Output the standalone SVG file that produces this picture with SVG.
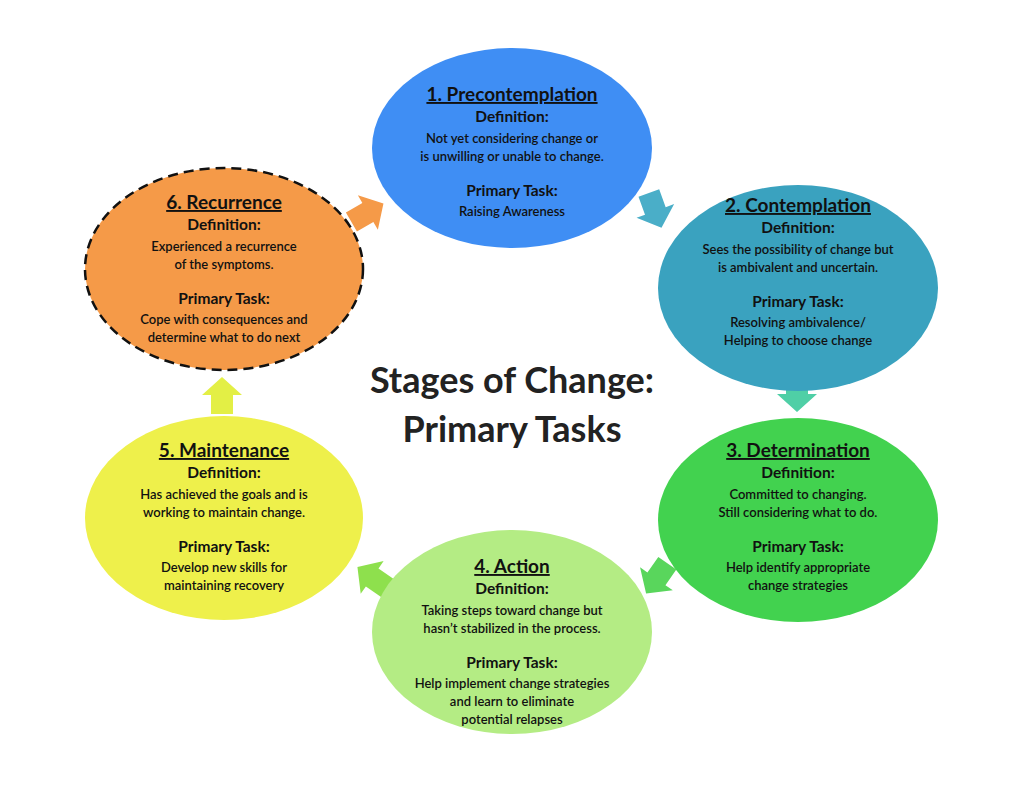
<svg xmlns="http://www.w3.org/2000/svg" width="1024" height="792" viewBox="0 0 1024 792">
<style>
text{font-family:Lato,"Open Sans","Liberation Sans",sans-serif;text-anchor:middle;fill:#111}
.h{font-size:19px;font-weight:bold;text-decoration:underline}
.d{font-size:15.5px;font-weight:bold}
.b{font-size:13px;font-weight:600}
.t{font-size:36px;font-weight:bold;fill:#222}
</style>
<defs><path id="ar" d="M-18,-11 L1,-11 L1,-20 L19,0 L1,20 L1,11 L-18,11 Z"/></defs>
<rect width="1024" height="792" fill="#fff"/>
<g id="connectors">
<use href="#ar" fill="#f59a48" transform="translate(367,213) rotate(-30)"/>
<use href="#ar" fill="#4aaec8" transform="translate(655,210) rotate(70)"/>
<use href="#ar" fill="#4fcfa6" transform="translate(797,393) rotate(90)"/>
<use href="#ar" fill="#59d65c" transform="translate(657,578) rotate(125)"/>
<use href="#ar" fill="#8ee04d" transform="translate(373,578) rotate(215)"/>
<use href="#ar" fill="#e3ef45" transform="translate(222,396) rotate(-90)"/>
</g>
<g id="n1"><ellipse cx="512" cy="148" rx="140" ry="100" fill="#3f8ef4"/>
<text x="512" y="101" class="h">1. Precontemplation</text><text x="512" y="122" class="d">Definition:</text>
<text x="512" y="143" class="b">Not yet considering change or</text><text x="512" y="161" class="b">is unwilling or unable to change.</text>
<text x="512" y="196" class="d">Primary Task:</text><text x="512" y="216" class="b">Raising Awareness</text></g>
<g id="n2"><ellipse cx="798" cy="288" rx="140" ry="103" fill="#3aa2bf"/>
<text x="798" y="212" class="h">2. Contemplation</text><text x="798" y="233" class="d">Definition:</text>
<text x="798" y="254" class="b">Sees the possibility of change but</text><text x="798" y="272" class="b">is ambivalent and uncertain.</text>
<text x="798" y="307" class="d">Primary Task:</text><text x="798" y="327" class="b">Resolving ambivalence/</text><text x="798" y="345" class="b">Helping to choose change</text></g>
<g id="n3"><ellipse cx="798" cy="520" rx="140" ry="102" fill="#42d24f"/>
<text x="798" y="457" class="h">3. Determination</text><text x="798" y="478" class="d">Definition:</text>
<text x="798" y="499" class="b">Committed to changing.</text><text x="798" y="517" class="b">Still considering what to do.</text>
<text x="798" y="552" class="d">Primary Task:</text><text x="798" y="572" class="b">Help identify appropriate</text><text x="798" y="590" class="b">change strategies</text></g>
<g id="n4"><ellipse cx="512" cy="632" rx="140" ry="102" fill="#b4ec84"/>
<text x="512" y="573" class="h">4. Action</text><text x="512" y="594" class="d">Definition:</text>
<text x="512" y="615" class="b">Taking steps toward change but</text><text x="512" y="633" class="b">hasn’t stabilized in the process.</text>
<text x="512" y="668" class="d">Primary Task:</text><text x="512" y="688" class="b">Help implement change strategies</text><text x="512" y="706" class="b">and learn to eliminate</text><text x="512" y="724" class="b">potential relapses</text></g>
<g id="n5"><ellipse cx="224" cy="518" rx="139" ry="102" fill="#eef04b"/>
<text x="224" y="457" class="h">5. Maintenance</text><text x="224" y="478" class="d">Definition:</text>
<text x="224" y="499" class="b">Has achieved the goals and is</text><text x="224" y="517" class="b">working to maintain change.</text>
<text x="224" y="552" class="d">Primary Task:</text><text x="224" y="572" class="b">Develop new skills for</text><text x="224" y="590" class="b">maintaining recovery</text></g>
<g id="n6"><ellipse cx="224" cy="269" rx="139" ry="101" fill="#f59a48" stroke="#111" stroke-width="2.5" stroke-dasharray="10,6"/>
<text x="224" y="209" class="h">6. Recurrence</text><text x="224" y="230" class="d">Definition:</text>
<text x="224" y="251" class="b">Experienced a recurrence</text><text x="224" y="269" class="b">of the symptoms.</text>
<text x="224" y="304" class="d">Primary Task:</text><text x="224" y="324" class="b">Cope with consequences and</text><text x="224" y="342" class="b">determine what to do next</text></g>
<g id="title"><text x="512" y="393" class="t">Stages of Change:</text><text x="512" y="442" class="t">Primary Tasks</text></g>
</svg>
